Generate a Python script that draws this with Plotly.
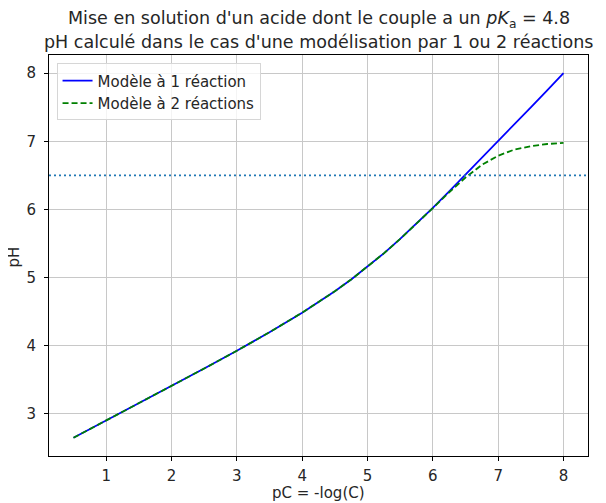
import plotly.graph_objects as go

pC = [0.5, 1.0, 1.5, 2.0, 2.5, 3.0, 3.5, 4.0, 4.25, 4.5, 4.75, 5.0, 5.25, 5.5,
      5.75, 6.0, 6.25, 6.5, 6.75, 7.0, 7.25, 7.5, 7.75, 8.0]
pH_1 = [2.65, 2.903, 3.155, 3.409, 3.666, 3.927, 4.199, 4.486, 4.639, 4.80, 4.973,
        5.158, 5.356, 5.568, 5.792, 6.025, 6.265, 6.509, 6.755, 7.003, 7.251, 7.50,
        7.75, 8.0]
pH_2 = [2.65, 2.903, 3.155, 3.409, 3.666, 3.927, 4.199, 4.486, 4.639, 4.80, 4.973,
        5.158, 5.356, 5.568, 5.79, 6.02, 6.252, 6.47, 6.655, 6.79, 6.88, 6.93,
        6.961, 6.978]
pH_ref = 6.5
x_ticks = [1, 2, 3, 4, 5, 6, 7, 8]
y_ticks = [3, 4, 5, 6, 7, 8]

FONT = "DejaVu Sans"
TXT = "#262626"

fig = go.Figure()
fig.add_trace(go.Scatter(x=pC, y=pH_1, mode="lines", name="Modèle à 1 réaction",
                         line=dict(color="#0000ff", width=1.8)))
fig.add_trace(go.Scatter(x=pC, y=pH_2, mode="lines", name="Modèle à 2 réactions",
                         line=dict(color="#008000", width=1.8, dash="6px,3px")))
fig.add_hline(y=pH_ref, line=dict(color="#1f77b4", width=1.8, dash="2px,3px"))

axis_common = dict(showline=True, linecolor="black", linewidth=1, mirror=True,
                   ticks="outside", ticklen=4, tickcolor="black", automargin=False,
                   showgrid=True, gridcolor="#c8c8c8", gridwidth=1, zeroline=False,
                   tickfont=dict(family=FONT, size=15, color=TXT))

fig.update_xaxes(range=[0.125, 8.375], tickvals=x_ticks, ticklabelstandoff=2, **axis_common)
fig.update_yaxes(range=[2.3825, 8.2675], tickvals=y_ticks, ticklabelstandoff=5, **axis_common)

# axis titles
fig.add_annotation(text="pC = -log(C)", xref="paper", yref="paper", x=0.5, y=-0.1172,
                   xanchor="center", yanchor="bottom", showarrow=False, borderpad=0,
                   font=dict(family=FONT, size=15, color=TXT))
fig.add_annotation(text="pH", xref="paper", yref="paper", x=-0.064, y=0.496,
                   xanchor="center", yanchor="middle", textangle=-90, showarrow=False,
                   font=dict(family=FONT, size=15, color=TXT))

# title
fig.add_annotation(text="Mise en solution d'un acide dont le couple a un <i>pK</i><sub>a</sub> = 4.8",
                   xref="paper", yref="paper", x=0.5, y=1.088, xanchor="center", yanchor="middle",
                   showarrow=False, font=dict(family=FONT, size=17.5, color=TXT))
fig.add_annotation(text="pH calculé dans le cas d'une modélisation par 1 ou 2 réactions",
                   xref="paper", yref="paper", x=0.5, y=1.032, xanchor="center", yanchor="middle",
                   showarrow=False, font=dict(family=FONT, size=17.5, color=TXT))

fig.update_layout(
    width=598, height=495,
    margin=dict(l=41, r=18, t=47, b=47, autoexpand=False),
    plot_bgcolor="white", paper_bgcolor="white",
    font=dict(family=FONT, size=15, color=TXT),
    showlegend=True,
    legend=dict(x=0.014, y=0.979, xanchor="left", yanchor="top",
                bgcolor="rgba(255,255,255,0.8)", bordercolor="#d6d6d6", borderwidth=1,
                font=dict(family=FONT, size=15, color=TXT), itemwidth=30,
                tracegroupgap=0),
)

fig.write_html("out.html")
